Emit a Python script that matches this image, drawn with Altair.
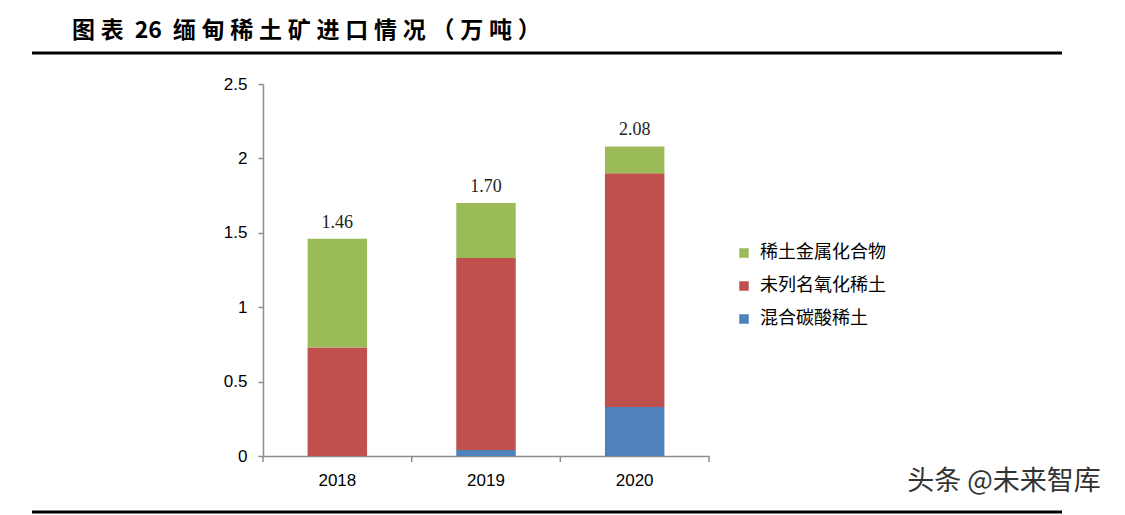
import altair as alt
import pandas as pd

years = ["2018", "2019", "2020"]
series = ["稀土金属化合物", "未列名氧化稀土", "混合碳酸稀土"]
colors = ["#9BBB59", "#C0504D", "#4F81BD"]
metal = [0.73, 0.37, 0.18]
oxide = [0.73, 1.29, 1.57]
carbonate = [0.00, 0.04, 0.33]
totals = [1.46, 1.70, 2.08]
y_ticks = [0, 0.5, 1, 1.5, 2, 2.5]
title_parts = ["图", "表", " 26 ", "缅", "甸", "稀", "土", "矿", "进", "口", "情", "况", "（", "万", "吨", "）"]
watermark_text = "头条 @未来智库"

rows = []
for i, yr in enumerate(years):
    rows.append({"year": yr, "series": series[2], "value": carbonate[i], "ord": 0})
    rows.append({"year": yr, "series": series[1], "value": oxide[i], "ord": 1})
    rows.append({"year": yr, "series": series[0], "value": metal[i], "ord": 2})
df = pd.DataFrame(rows)
tot = pd.DataFrame({"year": years, "total": totals})

W, H = 446, 372

xscale = alt.Scale(domain=years, paddingInner=0.6, paddingOuter=0.3)
yscale = alt.Scale(domain=[0, 2.5], nice=False)

bars = alt.Chart(df).mark_bar().encode(
    x=alt.X("year:N", scale=xscale, sort=years,
            axis=alt.Axis(title=None, labelAngle=0, ticks=False, domainColor="#8c8c8c",
                          domainWidth=1.5, labelFont="Liberation Sans", labelFontSize=17,
                          labelColor="#000000", labelPadding=16)),
    y=alt.Y("value:Q", stack="zero", scale=yscale,
            axis=alt.Axis(title=None, values=y_ticks, format="~g", grid=False,
                          domainColor="#8c8c8c", domainWidth=1.5, tickColor="#8c8c8c",
                          tickSize=5, tickWidth=1.5, labelFont="Liberation Sans",
                          labelFontSize=17, labelColor="#000000", labelPadding=11)),
    color=alt.Color("series:N", scale=alt.Scale(domain=series, range=colors),
                    legend=alt.Legend(title=None, orient="none", legendX=472, legendY=160,
                                      symbolType="square", symbolSize=90,
                                      symbolStrokeWidth=0, labelFont="Noto Sans CJK SC",
                                      labelFontSize=18, labelColor="#000000",
                                      rowPadding=15, labelOffset=7)),
    order=alt.Order("ord:Q", sort="ascending"),
)

labels = alt.Chart(tot).mark_text(font="Liberation Serif", fontSize=18, color="#222222",
                                  baseline="alphabetic", dy=-11).encode(
    x=alt.X("year:N", scale=xscale, sort=years, axis=None),
    y=alt.Y("total:Q", scale=yscale),
    text=alt.Text("total:Q", format=".2f"),
)

tick_df = pd.DataFrame({"t": [0, 1, 2, 3]})
xticks = alt.Chart(tick_df).mark_rule(color="#8c8c8c", strokeWidth=1.5).encode(
    x=alt.X("t:Q", scale=alt.Scale(domain=[0, 3]), axis=None),
    y=alt.value(H), y2=alt.value(H + 6),
)

spaced_title = "\u2005".join(title_parts)
title = alt.Chart(pd.DataFrame({"t": [spaced_title]})).mark_text(
    font="Noto Sans CJK SC", fontSize=23, fontWeight="bold", align="left",
    baseline="middle", color="#000000").encode(
    x=alt.value(-191), y=alt.value(-53), text="t:N")

top_line = alt.Chart(pd.DataFrame({"a": [0]})).mark_rule(color="#000000", strokeWidth=3).encode(
    x=alt.value(-231), x2=alt.value(799), y=alt.value(-31))
bottom_line = alt.Chart(pd.DataFrame({"a": [0]})).mark_rule(color="#000000", strokeWidth=3).encode(
    x=alt.value(-231), x2=alt.value(799), y=alt.value(428))

watermark = alt.Chart(pd.DataFrame({"t": [watermark_text]})).mark_text(
    font="Noto Sans CJK SC", fontSize=27, align="center", baseline="middle",
    color="#333333").encode(x=alt.value(741), y=alt.value(398), text="t:N")

chart = alt.layer(bars, labels, xticks, title, top_line, bottom_line, watermark).resolve_scale(
    x="independent"
).properties(
    width=W, height=H,
    padding={"left": 255, "top": 76, "right": 408, "bottom": 60},
    autosize=alt.AutoSizeParams(type="none"),
).configure_view(stroke=None)

chart.save("out.html", embed_options={"renderer": "svg", "actions": False})
